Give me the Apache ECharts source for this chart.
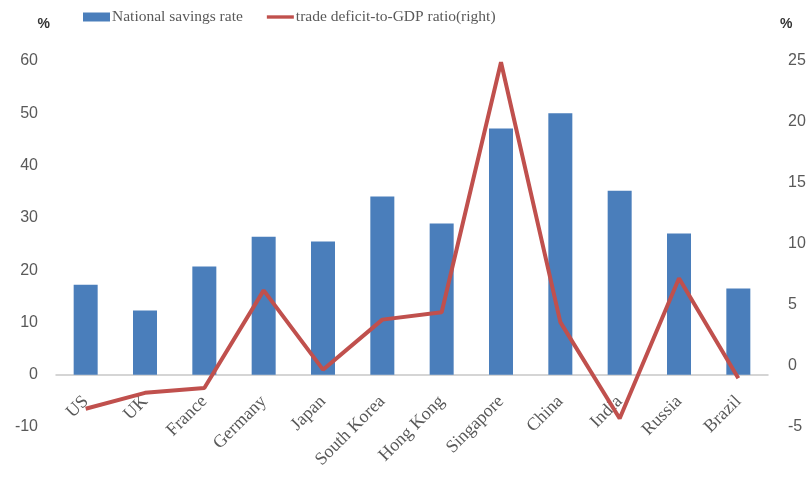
<!DOCTYPE html>
<html>
<head>
<meta charset="utf-8">
<script src="https://cdn.jsdelivr.net/npm/echarts@6/dist/echarts.min.js"></script>
<style>html,body{margin:0;padding:0;background:#fff}#c{width:808px;height:480px}</style>
</head>
<body>
<div id="c"></div>
<script>
const categories = ['US','UK','France','Germany','Japan','South Korea','Hong Kong','Singapore','China','India','Russia','Brazil'];
const savingsRate = [17.2, 12.3, 20.7, 26.4, 25.5, 34.1, 28.9, 47.1, 50.0, 35.2, 27.0, 16.5];
const tradeDeficitRatio = [-3.5, -2.2, -1.8, 6.2, -0.3, 3.8, 4.4, 24.9, 3.6, -4.3, 7.2, -1.0];
const seriesNames = ['National savings rate', 'trade deficit-to-GDP ratio(right)'];

const chart = echarts.init(document.getElementById('c'), null, {renderer: 'canvas'});
const gray = '#595959';
const serif = '"Liberation Serif", "Times New Roman", serif';
const sans = '"Liberation Sans", Arial, sans-serif';
const gridTop = 61, gridBottom = 53, H = 480;
const plotH = H - gridTop - gridBottom;
const zeroOffset = -plotH * 10 / 70; // move the category axis up to the left axis' 0
chart.setOption({
  animation: false,
  backgroundColor: '#ffffff',
  legend: {
    top: 4,
    left: 78,
    itemGap: 24,
    itemWidth: 27,
    itemHeight: 9,
    textStyle: {fontFamily: serif, fontSize: 15.5, color: gray, padding: [0,0,0,-3]},
    data: [
      {name: seriesNames[0], icon: 'rect'},
      {name: seriesNames[1], icon: 'path://M0,0 L32,0 L32,4 L0,4 Z'}
    ]
  },
  grid: {left: 56, right: 40, top: gridTop, bottom: gridBottom, containLabel: false, outerBoundsMode: 'none'},
  xAxis: {
    type: 'category',
    data: categories,
    offset: zeroOffset,
    axisLine: {show: true, onZero: false, lineStyle: {color: '#c8c8c8', width: 1.5}},
    axisTick: {show: false},
    axisLabel: {rotate: 45, fontFamily: serif, fontSize: 18, color: gray, margin: 24, interval: 0, hideOverlap: false}
  },
  yAxis: [
    {
      type: 'value', min: -10, max: 60, interval: 10,
      name: '%', nameLocation: 'end', nameGap: 30,
      nameTextStyle: {fontFamily: sans, fontSize: 14, color: '#333', fontWeight: 'bold', align: 'right', padding: [0, 6, 0, 0]},
      axisLine: {show: false}, axisTick: {show: false},
      splitLine: {show: false},
      axisLabel: {fontFamily: sans, fontSize: 16, color: gray, margin: 18}
    },
    {
      type: 'value', min: -5, max: 25, interval: 5,
      name: '%', nameLocation: 'end', nameGap: 30,
      nameTextStyle: {fontFamily: sans, fontSize: 14, color: '#333', fontWeight: 'bold', align: 'left', padding: [0, 0, 0, 12]},
      axisLine: {show: false}, axisTick: {show: false},
      splitLine: {show: false},
      axisLabel: {fontFamily: sans, fontSize: 16, color: gray, margin: 20}
    }
  ],
  series: [
    {
      name: seriesNames[0], type: 'bar', yAxisIndex: 0,
      data: savingsRate, barWidth: 24,
      itemStyle: {color: '#4a7ebb'}
    },
    {
      name: seriesNames[1], type: 'line', yAxisIndex: 1,
      data: tradeDeficitRatio, symbol: 'none',
      lineStyle: {color: '#c0504d', width: 4},
      itemStyle: {color: '#c0504d'}
    }
  ]
});
</script>
</body>
</html>
